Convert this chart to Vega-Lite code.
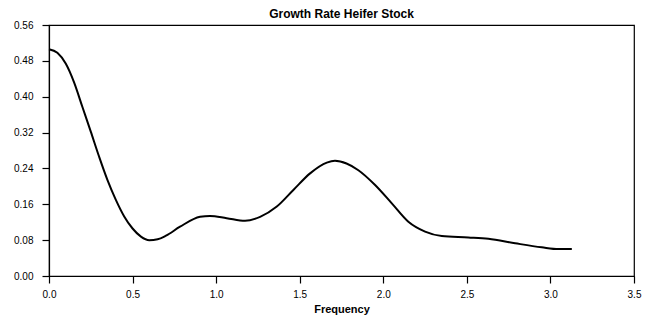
{
  "$schema": "https://vega.github.io/schema/vega-lite/v6.json",
  "autosize": {"type": "none"},
  "width": 585,
  "height": 251,
  "padding": {"left": 49, "top": 25, "right": 21, "bottom": 47},
  "background": "white",
  "title": {"text": "Growth Rate Heifer Stock", "font": "Liberation Sans", "fontSize": 12, "fontWeight": "bold", "color": "black", "anchor": "middle", "offset": -1},
  "config": {
    "view": {"stroke": "black", "strokeWidth": 1.2},
    "axis": {"grid": false, "labelFlush": false, "labelOverlap": false, "domainColor": "black", "tickColor": "black", "labelColor": "black", "titleColor": "black", "labelFont": "Liberation Sans", "titleFont": "Liberation Sans", "labelFontSize": 10, "tickSize": 7, "domainWidth": 1.2, "tickWidth": 1.2}
  },
  "data": {"values": [
    {"f": 0.0, "v": 0.506},
    {"f": 0.05, "v": 0.498},
    {"f": 0.1, "v": 0.474},
    {"f": 0.15, "v": 0.432},
    {"f": 0.2, "v": 0.377},
    {"f": 0.25, "v": 0.322},
    {"f": 0.3, "v": 0.266},
    {"f": 0.35, "v": 0.214},
    {"f": 0.4, "v": 0.170},
    {"f": 0.45, "v": 0.133},
    {"f": 0.5, "v": 0.106},
    {"f": 0.55, "v": 0.088},
    {"f": 0.6, "v": 0.080},
    {"f": 0.65, "v": 0.082},
    {"f": 0.7, "v": 0.090},
    {"f": 0.784, "v": 0.110},
    {"f": 0.904, "v": 0.132},
    {"f": 0.963, "v": 0.134},
    {"f": 1.063, "v": 0.129},
    {"f": 1.173, "v": 0.123},
    {"f": 1.263, "v": 0.132},
    {"f": 1.363, "v": 0.155},
    {"f": 1.462, "v": 0.192},
    {"f": 1.562, "v": 0.229},
    {"f": 1.662, "v": 0.253},
    {"f": 1.711, "v": 0.257},
    {"f": 1.78, "v": 0.251},
    {"f": 1.851, "v": 0.236},
    {"f": 1.951, "v": 0.203},
    {"f": 2.051, "v": 0.162},
    {"f": 2.150, "v": 0.121},
    {"f": 2.250, "v": 0.099},
    {"f": 2.350, "v": 0.089},
    {"f": 2.509, "v": 0.086},
    {"f": 2.629, "v": 0.083},
    {"f": 2.789, "v": 0.073},
    {"f": 2.948, "v": 0.064},
    {"f": 3.048, "v": 0.060},
    {"f": 3.128, "v": 0.060}
  ]},
  "mark": {"type": "line", "color": "black", "strokeWidth": 2, "interpolate": "monotone"},
  "encoding": {
    "x": {"field": "f", "type": "quantitative", "scale": {"domain": [0, 3.5], "nice": false}, "axis": {"values": [0, 0.5, 1, 1.5, 2, 2.5, 3, 3.5], "format": ".1f", "title": "Frequency", "titleFontSize": 11, "titleFontWeight": "bold", "labelPadding": 6, "titlePadding": 4}},
    "y": {"field": "v", "type": "quantitative", "scale": {"domain": [0, 0.56], "nice": false}, "axis": {"values": [0, 0.08, 0.16, 0.24, 0.32, 0.4, 0.48, 0.56], "format": ".2f", "title": null, "labelPadding": 9}}
  }
}
